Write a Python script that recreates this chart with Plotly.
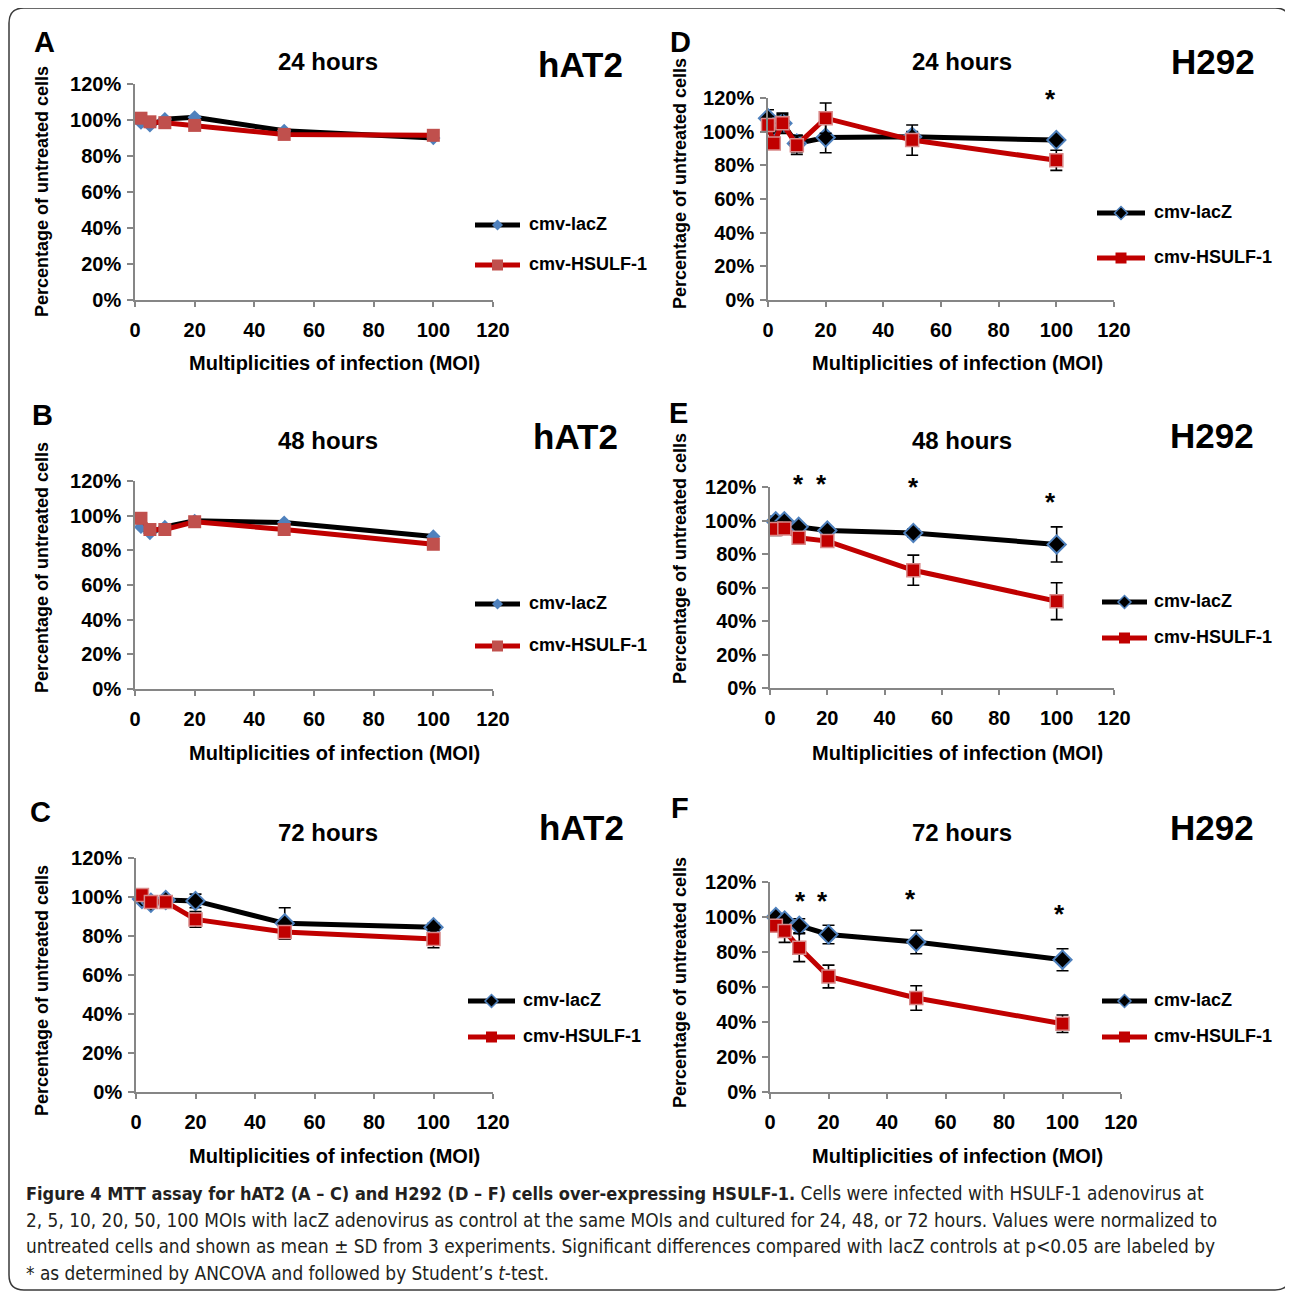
import plotly.graph_objects as go

# the page body has an 8px default margin; the figure is sized/shifted to compensate
OFF = 8
W = H = 1293 - OFF

# ---------------- data ----------------
moi = [2, 5, 10, 20, 50, 100]
moi_d = [0, 2, 5, 10, 20, 50, 100]

a_lacz = [98.5, 97, 100.5, 101.5, 94, 90]
a_hsulf = [101, 99, 98.5, 97, 92, 91.5]

b_lacz = [93.5, 90, 93.5, 97, 96, 88]
b_hsulf = [98.5, 92, 92, 96.5, 92, 83.5]

c_lacz = [99, 97, 98.5, 98, 86.5, 84.5]
c_hsulf = [101, 97.5, 97.5, 88.5, 82, 78.5]
c_lacz_sd = [1, 1, 1, 3.5, 8, 2]
c_hsulf_sd = [1, 1, 1, 4, 3.5, 4.5]

d_lacz = [108, 103, 105, 93, 96.5, 97, 95]
d_hsulf = [104, 93, 105, 92, 108, 95, 83]
d_lacz_sd = [5, 4, 5, 5, 9, 3, 2]
d_hsulf_sd = [5, 3, 6, 5.5, 9, 9, 6]

e_lacz = [99.5, 99.5, 96.2, 94, 92.6, 85.7]
e_hsulf = [95, 95.2, 89.7, 87.7, 70.3, 51.8]
e_lacz_sd = [3, 2, 2, 2, 2.5, 10.5]
e_hsulf_sd = [4, 3, 2, 3, 9, 11]

f_lacz = [100, 98, 95, 90, 85.7, 75.6]
f_hsulf = [95, 92, 82.5, 66, 53.7, 39]
f_lacz_sd = [1.5, 1.5, 4, 5.3, 6.7, 6.3]
f_hsulf_sd = [2, 6.5, 8, 6.5, 7, 5]

# significance stars (x = MOI, y = % position of the asterisk)
d_star_x = [98]
d_star_y = [122]
e_star_x = [10, 18, 50, 98]
e_star_y = [124, 124, 122.5, 113.5]
f_star_x = [10.3, 17.8, 48, 99]
f_star_y = [111.5, 111.5, 112.5, 104]

x_ticks = [0, 20, 40, 60, 80, 100, 120]
y_ticks = [0, 20, 40, 60, 80, 100, 120]
y_tick_labels = ["0%", "20%", "40%", "60%", "80%", "100%", "120%"]

series_names = ["cmv-lacZ", "cmv-HSULF-1"]
panel_letters = ["A", "B", "C", "D", "E", "F"]
time_titles = ["24 hours", "48 hours", "72 hours", "24 hours", "48 hours", "72 hours"]
cell_lines = ["hAT2", "hAT2", "hAT2", "H292", "H292", "H292"]
x_title = "Multiplicities of infection (MOI)"
y_title = "Percentage of untreated cells"

caption_lines = [
    "<span style='font-size:18px'><b>Figure 4 MTT assay for hAT2 (A – C) and H292 (D – F) cells over-expressing HSULF-1.</b></span> "
    "Cells were infected with HSULF-1 adenovirus at",
    "2, 5, 10, 20, 50, 100 MOIs with lacZ adenovirus as control at the same MOIs and cultured for 24, 48, or 72 hours. Values were normalized to",
    "untreated cells and shown as mean ± SD from 3 experiments. Significant differences compared with lacZ controls at p&lt;0.05 are labeled by",
    "* as determined by ANCOVA and followed by Student’s <i>t</i>-test.",
]

# ---------------- layout helpers ----------------
def px(x):
    return (x - OFF) / W

def py(y):
    return 1 - (y - OFF) / H

FONT = "Liberation Sans, Arial, Helvetica, sans-serif"
BLACK = "#000000"
RED = "#C00000"
BLUE = "#4F81BD"
LRED = "#C0504D"
AXC = "#868686"

# pixel geometry of each panel: x0, x120, y0(0%), y120(120%)
geom = [
    (135, 493, 300, 84),
    (135, 493, 689, 481),
    (136, 493, 1092, 858),
    (768, 1114, 300, 98),
    (770, 1114, 688, 487),
    (770, 1121, 1092, 882),
]

panels = [
    (moi, a_lacz, None, a_hsulf, None, "old"),
    (moi, b_lacz, None, b_hsulf, None, "old"),
    (moi, c_lacz, c_lacz_sd, c_hsulf, c_hsulf_sd, "new"),
    (moi_d, d_lacz, d_lacz_sd, d_hsulf, d_hsulf_sd, "new"),
    (moi, e_lacz, e_lacz_sd, e_hsulf, e_hsulf_sd, "new"),
    (moi, f_lacz, f_lacz_sd, f_hsulf, f_hsulf_sd, "new"),
]

fig = go.Figure()
layout = dict(
    width=W, height=H, autosize=False,
    margin=dict(l=0, r=0, t=0, b=0, autoexpand=False),
    paper_bgcolor="white", plot_bgcolor="white",
    showlegend=False,
    font=dict(family=FONT, color="black"),
)

annotations = []
shapes = []

def ann(x, y, text, size, **kw):
    d = dict(x=px(x), y=py(y), xref="paper", yref="paper", text=text, showarrow=False,
             xanchor="center", yanchor="middle",
             font=dict(family=kw.pop("family", FONT), size=size, color=kw.pop("color", "black")))
    d.update(kw)
    annotations.append(d)

letter_pos = [(44, 42), (42, 415), (40, 812), (680, 42), (678, 413), (680, 808)]
time_pos = [(328, 62), (328, 440), (328, 832), (962, 62), (962, 440), (962, 832)]
line_pos = [(580, 65), (575, 437), (581, 828), (1213, 62), (1212, 436), (1212, 827)]
ytitle_pos = [(42, 192), (42, 568), (42, 991), (680, 184), (680, 559), (680, 983)]
xtitle_pos = [(334, 363), (334, 753), (334, 1156), (957, 363), (957, 753), (957, 1156)]
legend_geo = [
    (475, 520, 527, 225, 265),
    (475, 520, 527, 604, 646),
    (468, 515, 521, 1001, 1037),
    (1097, 1145, 1152, 213, 258),
    (1102, 1147, 1152, 602, 638),
    (1102, 1147, 1152, 1001, 1037),
]
stars = [None, None, None, (d_star_x, d_star_y), (e_star_x, e_star_y), (f_star_x, f_star_y)]

for i, ((xs, l_vals, l_sd, h_vals, h_sd, style), (gx0, gx1, gy0, gy1)) in enumerate(zip(panels, geom)):
    n = i + 1
    xa = "x" if n == 1 else f"x{n}"
    ya = "y" if n == 1 else f"y{n}"
    xkey = "xaxis" if n == 1 else f"xaxis{n}"
    ykey = "yaxis" if n == 1 else f"yaxis{n}"
    layout[xkey] = dict(
        domain=[px(gx0), px(gx1)], range=[0, 120], anchor=ya,
        tickmode="array", tickvals=x_ticks, showline=True, linecolor=AXC, linewidth=1.5,
        ticks="outside", ticklen=5, tickcolor=AXC, tickwidth=1.5,
        showgrid=False, zeroline=False, ticklabelstandoff=6,
        tickfont=dict(family=FONT, size=20, color="black", weight="bold"),
    )
    layout[ykey] = dict(
        domain=[py(gy0), py(gy1)], range=[0, 120], anchor=xa,
        tickmode="array", tickvals=y_ticks, ticktext=y_tick_labels,
        showline=True, linecolor=AXC, linewidth=1.5,
        ticks="outside", ticklen=6, tickcolor=AXC, tickwidth=1.5,
        showgrid=False, zeroline=False, ticklabelstandoff=2,
        tickfont=dict(family=FONT, size=20, color="black", weight="bold"),
    )

    if style == "old":
        lm = dict(symbol="diamond", size=11, color=BLUE, line=dict(width=0))
        hm = dict(symbol="square", size=13, color=LRED, line=dict(width=0))
    else:
        lm = dict(symbol="diamond", size=14, color=BLACK, line=dict(width=2, color=BLUE))
        hm = dict(symbol="square", size=13, color=RED, line=dict(width=1.5, color="#D98A8A"))

    def err(sd):
        if sd is None:
            return None
        return dict(type="data", array=sd, visible=True, color="black", thickness=1.6, width=6)

    fig.add_trace(go.Scatter(
        x=xs, y=l_vals, mode="lines+markers", name=series_names[0],
        line=dict(color=BLACK, width=5), marker=lm, error_y=err(l_sd),
        xaxis=xa, yaxis=ya, cliponaxis=False,
    ))
    fig.add_trace(go.Scatter(
        x=xs, y=h_vals, mode="lines+markers", name=series_names[1],
        line=dict(color=RED, width=5), marker=hm, error_y=err(h_sd),
        xaxis=xa, yaxis=ya, cliponaxis=False,
    ))

    # stars: annotations above the axis top are kept at the top and raised with yshift
    if stars[i] is not None:
        sx, sy = stars[i]
        ppu = (gy0 - gy1) / 120.0
        for xv, yv in zip(sx, sy):
            yc = min(yv, 120)
            annotations.append(dict(
                x=xv, y=yc, xref=xa, yref=ya, text="<b>*</b>", showarrow=False,
                xanchor="center", yanchor="middle",
                font=dict(family=FONT, size=26, color="black"),
                yshift=(yv - yc) * ppu - 4,
            ))

    lx, ly = letter_pos[i]
    ann(lx, ly, f"<b>{panel_letters[i]}</b>", 29)
    tx, ty = time_pos[i]
    ann(tx, ty, f"<b>{time_titles[i]}</b>", 24)
    cx, cy = line_pos[i]
    ann(cx, cy, f"<b>{cell_lines[i]}</b>", 35)
    yx, yy = ytitle_pos[i]
    ann(yx, yy, f"<b>{y_title}</b>", 18, textangle=-90)
    xx, xy = xtitle_pos[i]
    ann(xx, xy, f"<b>{x_title}</b>", 20)

    # manual legend
    l0, l1, tx0, yl, yh = legend_geo[i]
    mc = (l0 + l1) / 2
    for yrow, col, name, kind in [(yl, BLACK, series_names[0], "d"), (yh, RED, series_names[1], "s")]:
        shapes.append(dict(type="line", xref="paper", yref="paper", x0=px(l0), x1=px(l1),
                           y0=py(yrow), y1=py(yrow), line=dict(color=col, width=5)))
        if kind == "d":
            h = 5.5 if style == "old" else 6.5
            fill = BLUE if style == "old" else BLACK
            path = (f"M {px(mc)},{py(yrow - h)} L {px(mc + h)},{py(yrow)} "
                    f"L {px(mc)},{py(yrow + h)} L {px(mc - h)},{py(yrow)} Z")
            shapes.append(dict(type="path", xref="paper", yref="paper", path=path,
                               fillcolor=fill, line=dict(color=BLUE, width=1.5 if style == "new" else 0)))
        else:
            h = 5.5
            fill = LRED if style == "old" else RED
            shapes.append(dict(type="rect", xref="paper", yref="paper",
                               x0=px(mc - h), x1=px(mc + h), y0=py(yrow + h), y1=py(yrow - h),
                               fillcolor=fill, line=dict(width=0)))
        ann(tx0, yrow - 1, f"<b>{name}</b>", 18, xanchor="left")

# caption
cap_y = [1193, 1220, 1246, 1273]
CAPFONT = "Liberation Sans Narrow, DejaVu Sans Condensed, Roboto Condensed, Liberation Sans, Arial, sans-serif"
for t, yv in zip(caption_lines, cap_y):
    ann(24, yv, t, 18.9, xanchor="left", family=CAPFONT, color="#231F20")

# rounded border
r = 15
x0b, y0b, x1b, y1b = 9, 8, 1290, 1290
border = (
    f"M {px(x0b + r)},{py(y0b)} L {px(x1b - r)},{py(y0b)} "
    f"Q {px(x1b)},{py(y0b)} {px(x1b)},{py(y0b + r)} "
    f"L {px(x1b)},{py(y1b - r)} Q {px(x1b)},{py(y1b)} {px(x1b - r)},{py(y1b)} "
    f"L {px(x0b + r)},{py(y1b)} Q {px(x0b)},{py(y1b)} {px(x0b)},{py(y1b - r)} "
    f"L {px(x0b)},{py(y0b + r)} Q {px(x0b)},{py(y0b)} {px(x0b + r)},{py(y0b)} Z"
)
shapes.append(dict(type="path", xref="paper", yref="paper", path=border,
                   line=dict(color="#3a3a3a", width=1.5), fillcolor="rgba(0,0,0,0)"))

layout["annotations"] = annotations
layout["shapes"] = shapes
fig.update_layout(**layout)

fig.write_html("out.html", config={"displayModeBar": False})
